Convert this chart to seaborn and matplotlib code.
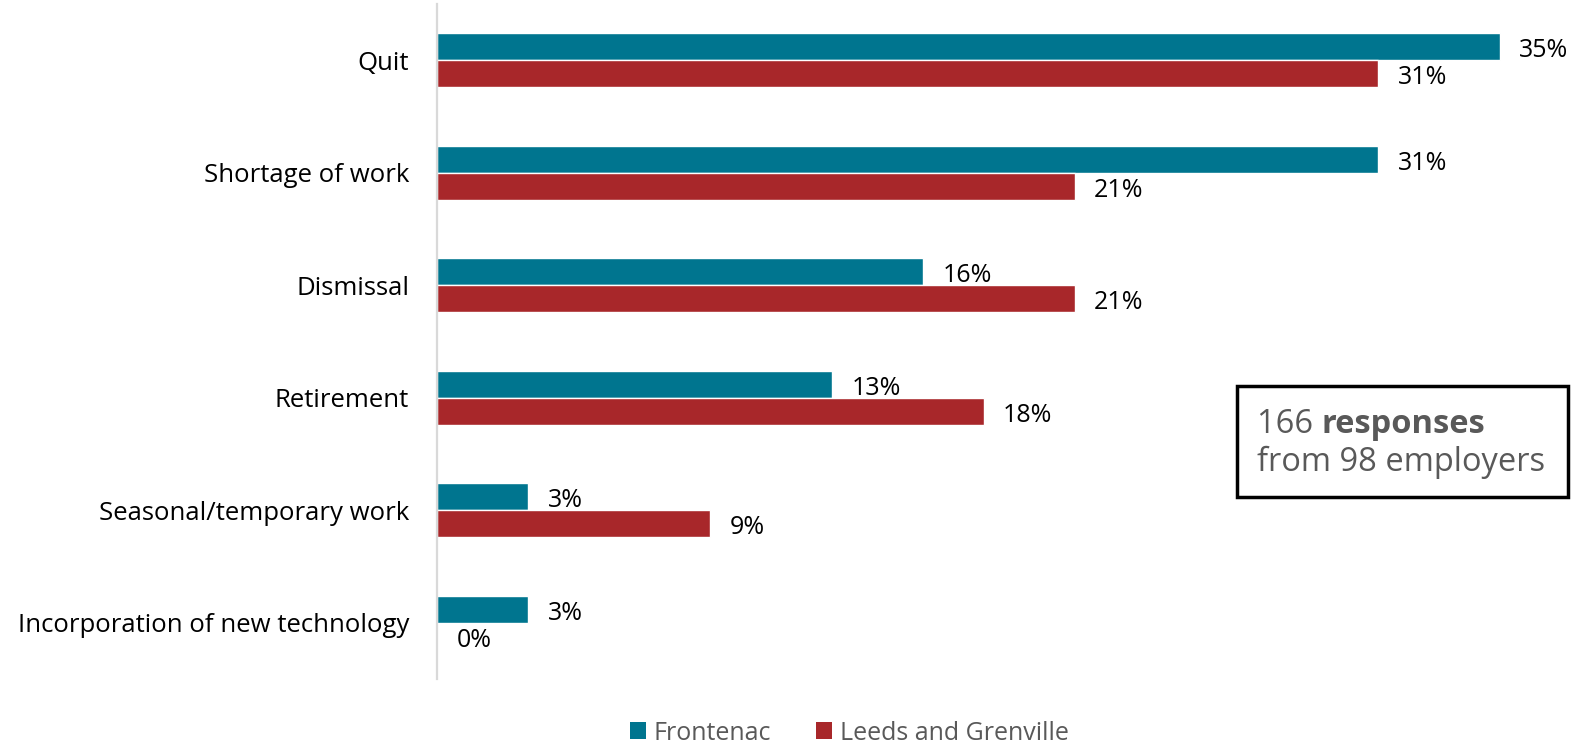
import matplotlib
matplotlib.use("Agg")
import matplotlib.pyplot as plt
import matplotlib.patches as mpatches
import seaborn as sns
import pandas as pd

categories = [
    "Quit",
    "Shortage of work",
    "Dismissal",
    "Retirement",
    "Seasonal/temporary work",
    "Incorporation of new technology",
]
regions = ["Frontenac", "Leeds and Grenville"]
frontenac = [35, 31, 16, 13, 3, 3]
leeds_grenville = [31, 21, 21, 18, 9, 0]
colors = ["#00758F", "#A8272A"]

df = pd.DataFrame({
    "reason": categories * 2,
    "region": [regions[0]] * len(categories) + [regions[1]] * len(categories),
    "pct": frontenac + leeds_grenville,
})

sns.set_theme(style="white")
plt.rcParams["font.family"] = ["Open Sans", "DejaVu Sans"]

W, H = 1594, 748
fig = plt.figure(figsize=(W / 100, H / 100), dpi=100)
x0, x1 = 437, 437 + 30.37 * 37
y_top, y_bot = 4, 679
ax = fig.add_axes([x0 / W, 1 - y_bot / H, (x1 - x0) / W, (y_bot - y_top) / H])

sns.barplot(
    data=df, y="reason", x="pct", hue="region", order=categories,
    hue_order=regions, palette=colors, orient="h", width=0.48,
    dodge=True, saturation=1, legend=False, ax=ax, errorbar=None,
)

ax.set_xlim(0, 37)
ax.set_ylim(len(categories) - 0.5, -0.5)
ax.set_xlabel("")
ax.set_ylabel("")
ax.set_xticks([])
ax.tick_params(axis="y", length=0, pad=20, labelsize=18.5, labelcolor="#000000")

for s in ["top", "right", "bottom"]:
    ax.spines[s].set_visible(False)
ax.spines["left"].set_color("#D9D9D9")
ax.spines["left"].set_linewidth(1.6)

# value labels just past the end of each bar, sitting slightly low
for container in ax.containers:
    labels = [f"{int(round(v))}%" for v in container.datavalues]
    anns = ax.bar_label(container, labels=labels, padding=14, fontsize=18,
                        color="#000000")
    for a in anns:
        a.set_va("center")
        dx, dy = a.xyann
        a.xyann = (dx, dy - 3)

# annotation box
bx0, by0, bx1, by1 = 1237, 386, 1568, 497
fig.patches.append(mpatches.Rectangle(
    (bx0 / W, 1 - by1 / H), (bx1 - bx0) / W, (by1 - by0) / H,
    transform=fig.transFigure, fill=False, edgecolor="#000000", linewidth=2.5))
t1 = fig.text(1257 / W, 1 - 424 / H, "166 ", fontsize=23.5, color="#595959",
              va="center", ha="left")
fig.canvas.draw()
ax.annotate("responses", xy=(1, 0.5), xycoords=t1, va="center", ha="left",
            fontsize=23.5, color="#595959", fontweight="bold",
            annotation_clip=False)
fig.text(1257 / W, 1 - 462 / H, "from 98 employers", fontsize=23.5,
         color="#595959", va="center", ha="left")

# legend
handles = [mpatches.Patch(facecolor=c, edgecolor="none", label=r)
           for c, r in zip(colors, regions)]
fig.legend(handles=handles, loc="center", bbox_to_anchor=(849 / W, 1 - 733 / H),
           ncol=2, frameon=False, fontsize=18, labelcolor="#595959",
           handlelength=0.65, handleheight=0.65, handletextpad=0.3,
           columnspacing=1.8)

fig.savefig("out.png", dpi=100, facecolor="white")
